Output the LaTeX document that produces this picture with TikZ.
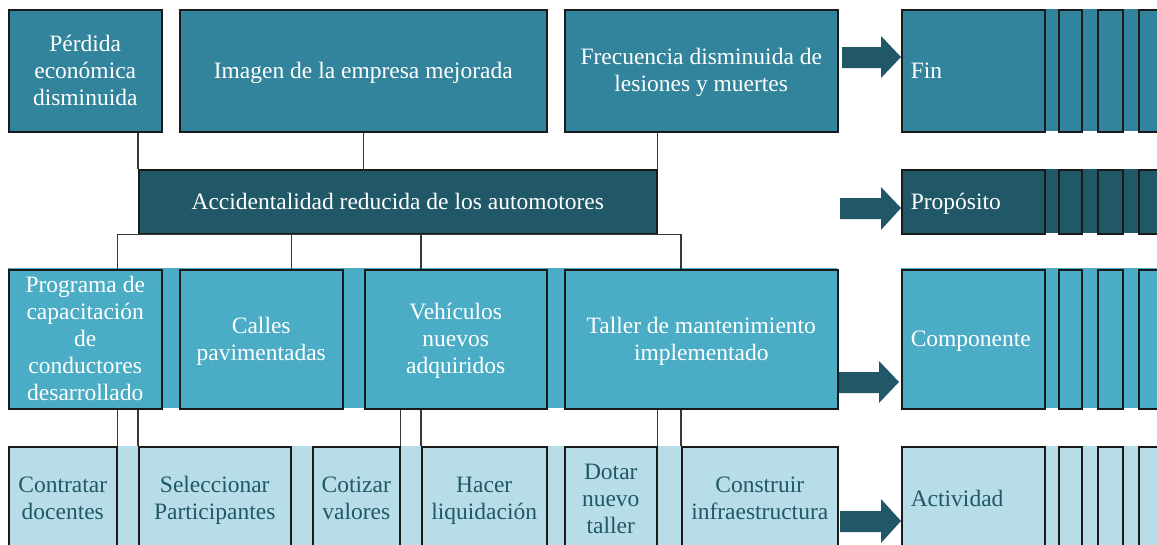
\documentclass[tikz,border=0pt]{standalone}
\usepackage{fontspec}
\setmainfont{Liberation Serif}
\definecolor{cA}{HTML}{31849B}
\definecolor{cB}{HTML}{215868}
\definecolor{cC}{HTML}{4BACC6}
\definecolor{cD}{HTML}{B7DDE8}
\definecolor{edge}{HTML}{1A1A1A}
\definecolor{conn}{HTML}{383838}
% each line: only cap height counts, so the block of capitals is centred in its box
\newcommand\mkline[1]{\smash{#1}\vphantom{X}}
\tikzset{
  box/.style={draw=edge, line width=1.5pt, anchor=north west, inner sep=0pt, align=center,
    font=\fontsize{23.5}{27}\selectfont, text=white},
  lvl/.style={box, align=left, text width=125pt, inner xsep=9pt},
  rowA/.style={fill=cA},
  rowB/.style={fill=cB},
  rowC/.style={fill=cC},
  rowD/.style={fill=cD, text=cB},
  link/.style={draw=conn, line width=1.5pt},
  blockarrow/.style={fill=cB}
}
\begin{document}
\begin{tikzpicture}[x=1pt,y=-1pt]
\useasboundingbox (0,0) rectangle (1157,544);
\clip (0,0) rectangle (1157,544);
% bands
\fill[cA] (1041,9) rectangle (1160,131);
\fill[cB] (1041,169) rectangle (1160,233);
\fill[cC] (8,268) rectangle (837,408);
\fill[cC] (901,268) rectangle (1160,408);
\fill[cD] (8,446) rectangle (837,560);
\fill[cD] (901,446) rectangle (1160,560);
% row 1
\node[box,rowA,minimum width=153pt,minimum height=122pt] (perdida) at (8,9) {\mkline{P\'erdida}\\\mkline{econ\'omica}\\\mkline{disminuida}};
\node[box,rowA,minimum width=367pt,minimum height=122pt] (imagen) at (179,9) {\mkline{Imagen de la empresa mejorada}};
\node[box,rowA,minimum width=273pt,minimum height=122pt] (frec) at (564,9) {\mkline{Frecuencia disminuida de}\\\mkline{lesiones y muertes}};
\node[lvl,rowA,minimum height=122pt] (fin) at (901,9) {\mkline{Fin}};
\node[box,rowA,minimum width=23pt,minimum height=122pt] (fa) at (1058,9) {};
\node[box,rowA,minimum width=25pt,minimum height=122pt] (fb) at (1097,9) {};
\node[box,rowA,minimum width=40pt,minimum height=122pt] (fc) at (1138,9) {};
% row 2
\node[box,rowB,minimum width=518pt,minimum height=64pt] (acc) at (138,169) {\mkline{Accidentalidad reducida de los automotores}};
\node[lvl,rowB,minimum height=64pt] (prop) at (901,169) {\mkline{Prop\'osito}};
\node[box,rowB,minimum width=23pt,minimum height=64pt] (pa) at (1058,169) {};
\node[box,rowB,minimum width=25pt,minimum height=64pt] (pb) at (1097,169) {};
\node[box,rowB,minimum width=40pt,minimum height=64pt] (pc) at (1138,169) {};
% row 3
\node[box,rowC,minimum width=153pt,minimum height=139pt] (prog) at (8,269) {\mkline{Programa de}\\\mkline{capacitaci\'on}\\\mkline{de}\\\mkline{conductores}\\\mkline{desarrollado}};
\node[box,rowC,minimum width=163pt,minimum height=139pt] (calles) at (179,269) {\mkline{Calles}\\\mkline{pavimentadas}};
\node[box,rowC,minimum width=182pt,minimum height=139pt] (veh) at (364,269) {\mkline{Veh\'iculos}\\\mkline{nuevos}\\\mkline{adquiridos}};
\node[box,rowC,minimum width=273pt,minimum height=139pt] (taller) at (564,269) {\mkline{Taller de mantenimiento}\\\mkline{implementado}};
\node[lvl,rowC,minimum height=139pt] (comp) at (901,269) {\mkline{Componente}};
\node[box,rowC,minimum width=23pt,minimum height=139pt] (ca) at (1058,269) {};
\node[box,rowC,minimum width=25pt,minimum height=139pt] (cb) at (1097,269) {};
\node[box,rowC,minimum width=40pt,minimum height=139pt] (cc) at (1138,269) {};
% row 4
\node[box,rowD,minimum width=108pt,minimum height=104pt] (contratar) at (8,446) {\mkline{Contratar}\\\mkline{docentes}};
\node[box,rowD,minimum width=152pt,minimum height=104pt] (selec) at (138,446) {\mkline{Seleccionar}\\\mkline{Participantes}};
\node[box,rowD,minimum width=87pt,minimum height=104pt] (cotizar) at (312,446) {\mkline{Cotizar}\\\mkline{valores}};
\node[box,rowD,minimum width=125pt,minimum height=104pt] (hacer) at (421,446) {\mkline{Hacer}\\\mkline{liquidaci\'on}};
\node[box,rowD,minimum width=92pt,minimum height=104pt] (dotar) at (564,446) {\mkline{Dotar}\\\mkline{nuevo}\\\mkline{taller}};
\node[box,rowD,minimum width=156pt,minimum height=104pt] (construir) at (681,446) {\mkline{Construir}\\\mkline{infraestructura}};
\node[lvl,rowD,minimum height=104pt] (activ) at (901,446) {\mkline{Actividad}};
\node[box,rowD,minimum width=23pt,minimum height=104pt] (aa) at (1058,446) {};
\node[box,rowD,minimum width=25pt,minimum height=104pt] (ab) at (1097,446) {};
\node[box,rowD,minimum width=40pt,minimum height=104pt] (ac) at (1138,446) {};
% connectors row 1 -> row 2
\draw[link] (acc.north west |- perdida.south) -- (acc.north west);
\draw[link] (imagen.south) -- (imagen.south |- acc.north);
\draw[link] (acc.north east |- frec.south) -- (acc.north east);
% connectors row 2 -> row 3
\draw[link] (contratar.north east |- prog.north) -- (contratar.north east |- acc.south)
  -- (construir.north west |- acc.south) -- (construir.north west |- taller.north);
\draw[link] (selec.north east |- acc.south) -- (selec.north east |- calles.north);
\draw[link] (hacer.north west |- acc.south) -- (hacer.north west |- veh.north);
% connectors row 3 -> row 4
\draw[link] (contratar.north east |- prog.south) -- (contratar.north east);
\draw[link] (selec.north west |- prog.south) -- (selec.north west);
\draw[link] (cotizar.north east |- veh.south) -- (cotizar.north east);
\draw[link] (hacer.north west |- veh.south) -- (hacer.north west);
\draw[link] (dotar.north east |- taller.south) -- (dotar.north east);
\draw[link] (construir.north west |- taller.south) -- (construir.north west);
% block arrows
\fill[blockarrow] (842,47) -- (881,47) -- (881,36) -- (901,57) -- (881,78) -- (881,68) -- (842,68) -- cycle;
\fill[blockarrow] (840,198) -- (881,198) -- (881,187) -- (901,208) -- (881,230) -- (881,219) -- (840,219) -- cycle;
\fill[blockarrow] (839,372) -- (879,372) -- (879,361) -- (899,382) -- (879,403) -- (879,393) -- (839,393) -- cycle;
\fill[blockarrow] (840,511) -- (881,511) -- (881,499) -- (901,521) -- (881,543) -- (881,532) -- (840,532) -- cycle;
\end{tikzpicture}
\end{document}
